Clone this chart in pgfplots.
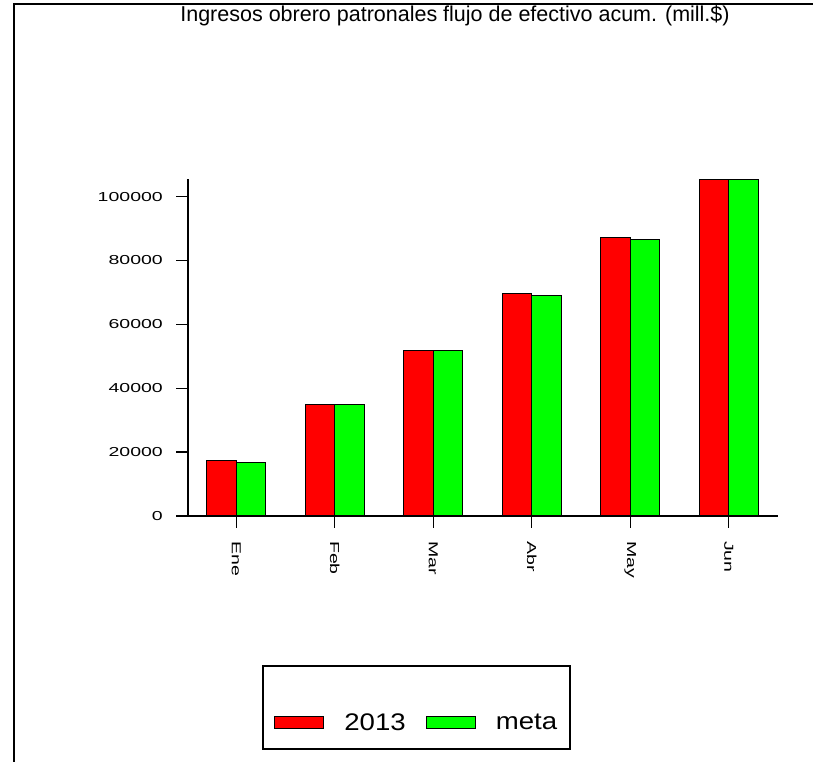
\documentclass[border=0pt]{standalone}
\usepackage{pgfplots}
\pgfplotsset{compat=1.18}
\usepackage{fontspec}
\setmainfont{Liberation Sans}
\newfontfamily\tickfont[FakeStretch=1.5]{Liberation Sans}
\newfontfamily\legfont[FakeStretch=1.15]{Liberation Sans}
\definecolor{barred}{RGB}{255,0,0}
\definecolor{bargreen}{RGB}{0,255,0}
\begin{document}
\begin{tikzpicture}
\useasboundingbox (0,0) rectangle (813pt,762pt);
\draw[line width=1.6pt] (14pt,0pt) -- (14pt,758pt) -- (813pt,758pt);
\node[font=\fontsize{21.5}{24}\selectfont] at (455pt,746pt) {Ingresos obrero patronales flujo de efectivo acum. (mill.\$)};
\begin{axis}[
  at={(188pt,246pt)}, anchor=south west,
  scale only axis,
  clip=false,
  width=590pt, height=337pt,
  xmin=-0.49, xmax=5.5,
  ymin=0, ymax=105500,
  axis x line*=bottom, axis y line*=left,
  axis line style={-, line width=1.2pt},
  tick align=outside,
  major tick length=12pt,
  every tick/.style={draw=black, line width=1.3pt},
  xtick={0,1,2,3,4,5},
  xticklabels={Ene,Feb,Mar,Abr,May,Jun},
  ytick={0,20000,40000,60000,80000,100000},
  yticklabels={0,20000,40000,60000,80000,100000},
  scaled y ticks=false,
  yticklabel style={font=\tickfont\fontsize{13}{15}\selectfont, inner sep=0pt, xshift=-13pt},
  xticklabel style={font=\tickfont\fontsize{13}{15}\selectfont, inner sep=0pt, yshift=-13pt, rotate=-90, anchor=west},
  ybar=0pt,
  bar width=29.5pt,
  legend columns=2,
  legend style={at={(rel axis cs:0.386,-0.614)}, anchor=center, draw=none, fill=none,
    font=\legfont\fontsize{24}{26}\selectfont,
    nodes={inner sep=0pt}, column sep=20pt},
  legend image code/.code={\draw[#1] (0pt,-6pt) rectangle (49pt,6pt);},
]
\addplot[fill=barred, draw=black, line width=1pt] coordinates {(0,17300) (1,35000) (2,51700) (3,69600) (4,87100) (5,105200)};
\addplot[fill=bargreen, draw=black, line width=1pt] coordinates {(0,16700) (1,35000) (2,51700) (3,69100) (4,86500) (5,105200)};
\legend{2013,meta}
\pgfplotsinvokeforeach{0,20000,40000,60000,80000,100000}{
  \draw[line width=1.3pt] (axis cs:-0.49,#1) -- ++(-12pt,0pt);
}
\pgfplotsinvokeforeach{0,1,2,3,4,5}{
  \draw[line width=1.3pt] (axis cs:#1,0) -- ++(0pt,-12pt);
}
\end{axis}
\draw[line width=1.2pt] (263pt,13pt) rectangle (570pt,96pt);
\end{tikzpicture}
\end{document}
